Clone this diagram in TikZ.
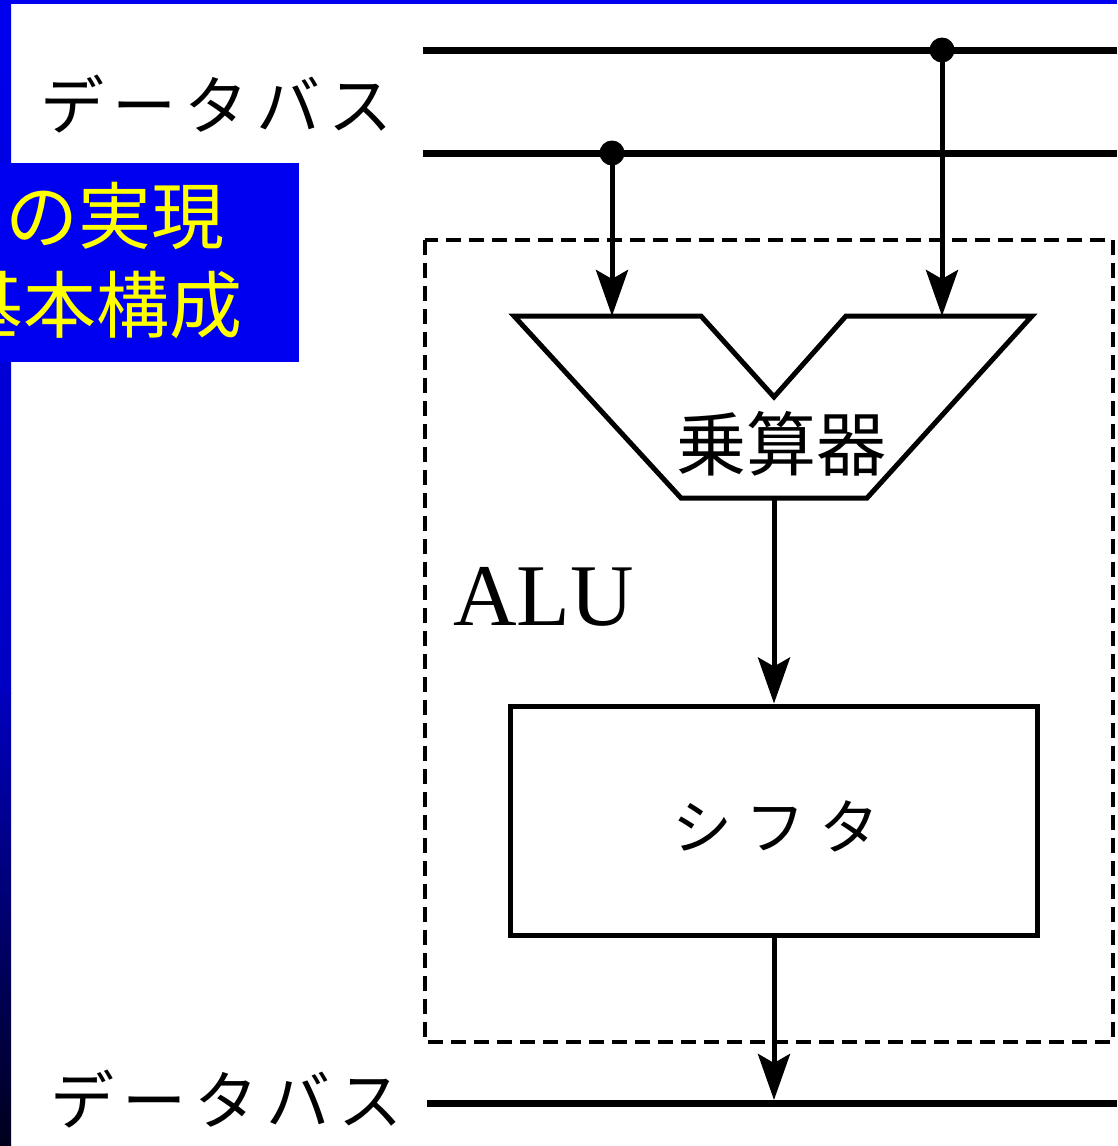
\documentclass[tikz,border=0pt]{standalone}
\usepackage{fontspec}
\newfontfamily\jp{Noto Sans CJK JP}
\newfontfamily\serifA{Liberation Serif}
\usetikzlibrary{arrows.meta}
\definecolor{slideblue}{RGB}{0,0,238}
\definecolor{boxblue}{RGB}{0,0,240}
\definecolor{stripmid}{RGB}{0,0,190}
\definecolor{stripdark}{RGB}{0,0,28}
\definecolor{titleyellow}{RGB}{255,255,0}
\tikzset{
  bus/.style={line width=7pt},
  sig/.style={line width=5pt,-{Stealth[length=46pt,width=32pt,inset=9pt]}},
  junction/.style={circle,fill=black,inner sep=0pt,minimum size=25pt},
  unitbox/.style={draw,line width=5pt,minimum width=527pt,minimum height=229pt,inner sep=0pt},
  alubox/.style={line width=4pt,dash pattern=on 15pt off 8pt},
  jplabel/.style={font=\jp\fontsize{64pt}{70pt}\selectfont,inner sep=0pt},
  titletext/.style={font=\jp\fontsize{73pt}{80pt}\selectfont,text=titleyellow,inner sep=0pt,anchor=west}
}
\begin{document}
\begin{tikzpicture}[x=1pt,y=-1pt]
\useasboundingbox (0,0) rectangle (1117,1146);
\fill[white] (0,0) rectangle (1117,1146);
% slide frame
\fill[slideblue] (0,0) rectangle (1117,4);
\shade[top color=slideblue,bottom color=stripmid!90!slideblue] (0,0) rectangle (11,693);
\shade[top color=stripmid,bottom color=stripdark] (0,693) rectangle (11,1146);
% title box
\fill[boxblue] (0,163) rectangle (299,362);
\begin{scope}
  \clip (0,163) rectangle (299,362);
  \node[titletext] (t1) at (5,216) {の実現};
  \node[titletext] (t2) at (-50,305) {基本構成};
\end{scope}
% buses
\coordinate (busAl) at (423,50);  \coordinate (busAr) at (1117,50);
\coordinate (busBl) at (423,153); \coordinate (busBr) at (1117,153);
\coordinate (busCl) at (427,1103); \coordinate (busCr) at (1117,1103);
\draw[bus] (busAl) -- (busAr);
\draw[bus] (busBl) -- (busBr);
\draw[bus] (busCl) -- (busCr);
\node[jplabel,anchor=west] (lblA) at (40,104) {デ\hspace{8pt}ー\hspace{8pt}タ\hspace{8pt}バ\hspace{8pt}ス};
\node[jplabel,anchor=west] (lblC) at (50,1099) {デ\hspace{8pt}ー\hspace{8pt}タ\hspace{8pt}バ\hspace{8pt}ス};
% ALU dashed region
\draw[alubox] (425,240) rectangle (1113,1042);
\node[font=\serifA\fontsize{88pt}{90pt}\selectfont,inner sep=0pt,anchor=base west] (alu) at (453,625) {ALU};
% multiplier
\coordinate (mulL) at (612,316);
\coordinate (mulR) at (942,316);
\coordinate (mulOut) at (774,498);
\draw[line width=5pt,line join=miter] (514,316) -- (701,316) -- (774,397) -- (846,316) -- (1032,316) -- (867,498) -- (681,498) -- cycle;
\node[font=\jp\fontsize{70pt}{74pt}\selectfont,inner sep=0pt] (mul) at (781,444) {乗算器};
% junctions
\node[junction] (jB) at (612,153) {};
\node[junction] (jA) at (942,50) {};
% shifter
\node[unitbox] (shift) at (774,820.5) {};
\node[font=\jp\fontsize{60pt}{64pt}\selectfont,inner sep=0pt] (shiftlbl) at (776,826) {シ\hspace{14pt}フ\hspace{14pt}タ};
\coordinate (outC) at (774,1100);
% connectors
\draw[sig] (jB.center) -- (mulL);
\draw[sig] (jA.center) -- (mulR);
\draw[sig] (mulOut) -- (shift.north);
\draw[sig] (shift.south) -- (outC);
\end{tikzpicture}
\end{document}
